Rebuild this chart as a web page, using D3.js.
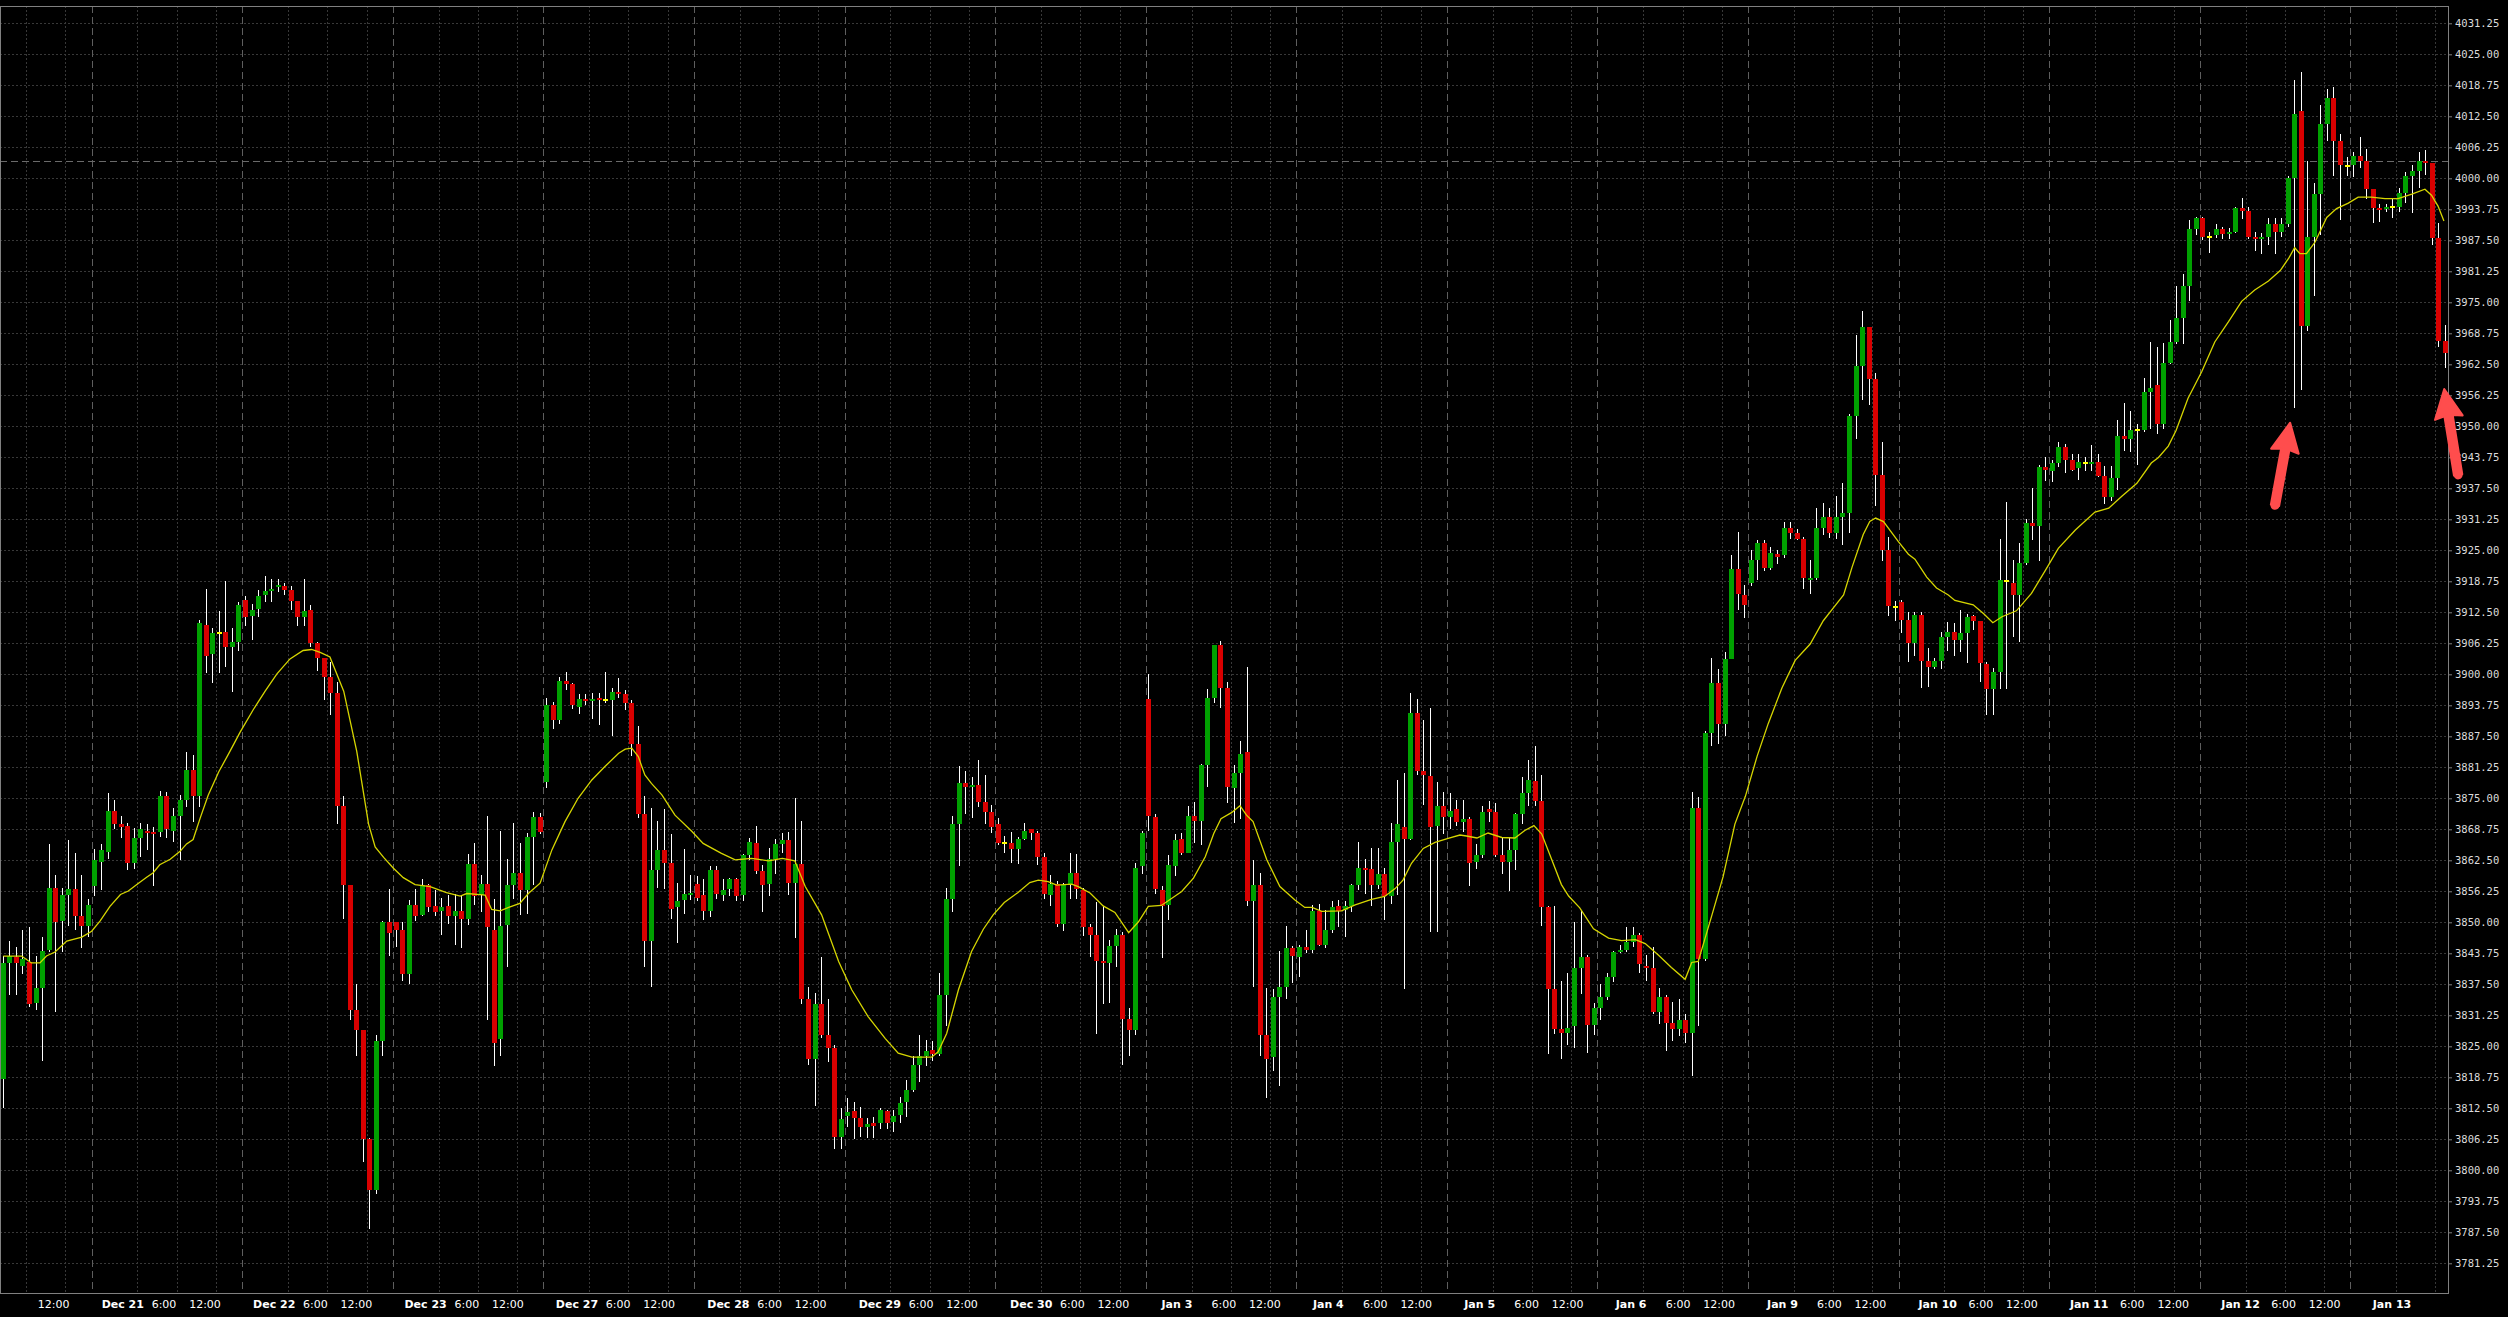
<!DOCTYPE html>
<html><head><meta charset="utf-8">
<script src="https://cdn.jsdelivr.net/npm/d3@7"></script>
<style>html,body{margin:0;padding:0;background:#000;overflow:hidden}</style>
</head><body>
<svg id="chart" width="2508" height="1317"></svg>
<script>
// ---------- DATA (hourly bars) ----------
const opens = [
3818.5,3841.75,3843,3841.25,3842,3833.75,3836.75,3844.5,3857,3850.25,
3855.5,3856.75,3851.25,3849.25,3857.25,3862.25,3864.25,3872.5,3869.75,3869.5,
3862,3867,3868.5,3868.25,3868.25,3875.5,3868.5,3871.5,3874.75,3880.75,
3875.5,3910,3904,3908.25,3908.5,3905.5,3906.5,3915,3911.75,3913.25,
3916,3916.75,3917.5,3917.75,3917,3914.75,3911.5,3913,3906.25,3903.25,
3899.5,3896.25,3873.5,3857.5,3832.25,3828.25,3806.25,3796,3826,3850,
3850,3848.5,3839.5,3853.5,3851.5,3857.5,3853.25,3852.25,3853.25,3851.25,
3852.25,3850.75,3861.75,3855.5,3857.75,3848.5,3826.5,3849.5,3857.5,3860,
3856.5,3867.25,3871.25,3878.25,3893.75,3890.75,3898.75,3898,3893.5,3895,
3894.75,3895.25,3894.75,3894.75,3896.5,3896,3894.25,3886,3871.75,3846.25,
3860.5,3864.5,3862,3853,3854.5,3855.5,3857.75,3855.5,3852.25,3860.5,
3855.5,3856.75,3858.75,3855.5,3863.5,3866,3860.25,3857.75,3862.75,3865.75,
3866.5,3858,3861.75,3834.5,3822.5,3833.5,3827.25,3824.75,3806.75,3811,
3812,3810.5,3808.75,3809.5,3809.5,3812,3809.75,3811.25,3813.75,3816.25,
3821.25,3823,3824.25,3823.5,3835.25,3854.75,3869.75,3878,3877.25,3877.75,
3874.25,3872.25,3869.75,3866,3866,3864.75,3866.75,3868.75,3868,3863.25,
3855.5,3857.75,3849.75,3857.5,3860,3856.5,3849,3847.5,3842.25,3841.75,
3845.25,3847.5,3830.5,3828.25,3861.25,3895,3871.25,3856.5,3853.5,3861.25,
3866.75,3864,3871.5,3870.5,3881.75,3895.25,3906,3897.25,3877,3880,
3884.25,3854.25,3857.5,3827.25,3822.75,3835,3837,3844.75,3843,3845,
3844.5,3852.25,3845.5,3848.5,3853.25,3852.5,3853.25,3857.5,3861,3860.75,
3857.5,3859.75,3855.25,3866.25,3869.25,3866.75,3892.25,3880.5,3879.5,3869.5,
3873.5,3871.25,3872.75,3870.25,3870.75,3862.25,3863.5,3872.75,3872.25,3863.5,
3862.25,3864.5,3871.75,3876,3878.5,3874.5,3853,3836.5,3828.5,3827.75,
3829,3840.75,3843,3829.25,3832.75,3835,3839,3844,3844.5,3846,
3847.5,3841.25,3840.75,3832,3835,3829.75,3828.5,3830.25,3827.75,3873,
3842.5,3888.25,3898.25,3890,3903,3921.25,3916,3918.5,3923,3926.5,
3921.5,3924.25,3924,3929.5,3928.5,3927.25,3919.25,3919.5,3929.5,3931.75,
3928.5,3931.75,3932.5,3952,3962.25,3970,3959.5,3940.25,3925,3913.5,
3914.5,3911,3906.25,3912,3902.75,3901.5,3902.75,3907.5,3908.5,3907,
3908.25,3911.75,3910.75,3902,3897,3900.5,3918.75,3918.5,3916,3922.5,
3930.5,3930,3941.75,3941,3942.5,3945.75,3943.25,3941.5,3942.5,3942.5,
3942.75,3940,3935.75,3939.5,3948,3947.5,3949.25,3949.25,3957,3958.25,
3950.5,3962.75,3967,3971.75,3978.25,3989.75,3992,3988.25,3988.5,3989.75,
3988.75,3989.25,3994,3993.5,3988.25,3988,3988.25,3990.75,3989.25,3990.75,
4000,4013.5,3970.25,3988.25,3996.75,4011,4016.25,4007.5,4002.5,4002.75,
4004.5,4003.5,3997.75,3994,3993.75,3994.25,3994.25,3997,4000.5,4001.5,
4003.5,4003,3988,3967.25];

const highs = [
3843.25,3846.25,3845,3848.5,3849,3843.25,3847,3865.75,3859.5,3857,
3866.5,3864,3859.5,3854.75,3864.75,3865.75,3876,3874.75,3871.5,3870,
3869,3870,3869.75,3869.25,3876.5,3876.25,3873,3875.75,3884.25,3883.75,
3911,3917.25,3909.25,3912.75,3918.75,3909.25,3914.5,3915.75,3914.25,3917,
3919.75,3919.25,3919.25,3918.5,3917.75,3914.75,3919.25,3914,3906.5,3903.25,
3902.5,3898.5,3875.5,3857.5,3837.5,3828.25,3806.5,3827.25,3850.25,3856.75,
3850,3850,3854.5,3856.75,3858.75,3857.75,3856.5,3855,3855.5,3855.75,
3855.5,3863.75,3866,3859.5,3871.5,3854.75,3868.5,3862.75,3870,3866,
3868,3872.25,3872,3895.25,3894.5,3899.5,3900.5,3898.25,3896,3896,
3896.25,3896.25,3900.5,3897.25,3899.25,3896.75,3894.75,3889.5,3875.5,3873,
3870.5,3872.75,3867.75,3858,3864.75,3859.5,3859.25,3858.75,3861.25,3861.25,
3858.75,3859,3859,3863.75,3867,3869.5,3861.5,3865,3866.75,3868,
3868.25,3875,3870.5,3837,3835.75,3843,3834.5,3825.25,3812.5,3814.5,
3813.75,3812.75,3810.5,3810.75,3812.5,3812.25,3812.25,3814.75,3818.25,3823,
3827.25,3826.25,3826,3839.75,3857,3871.5,3881.5,3880.5,3879.25,3882.75,
3879.75,3873.75,3871,3867.5,3868.25,3867.25,3870,3868.75,3868.5,3864,
3859.5,3858.25,3858,3864,3863.75,3857,3849.75,3854,3853.25,3846.5,
3848.75,3848,3832.75,3862,3868.5,3900,3871.75,3857.25,3863.5,3867.75,
3868,3873.5,3874.25,3882,3897,3906,3906.75,3898.5,3881.75,3886.5,
3901.5,3862.5,3860,3836.75,3836.5,3844.25,3849.25,3845.25,3845.5,3848.5,
3853.5,3853.75,3852.5,3854.25,3854.5,3854.25,3857.75,3866.25,3862.75,3865,
3865,3861,3870,3878.75,3880,3896.25,3895,3890.75,3893.25,3878.25,
3876.25,3876,3874.75,3874.75,3871.25,3865.75,3873.5,3874.5,3874,3867.25,
3867,3872,3879.25,3882.75,3885.5,3879.75,3853.25,3853.25,3838.25,3839.75,
3850,3852.5,3843.5,3833.75,3837.5,3839.75,3844.25,3845.5,3849,3849,
3847.75,3843.5,3845,3836.75,3835.25,3834,3834.5,3831.5,3876.25,3875.25,
3888.5,3903.25,3901,3904.5,3924,3928.75,3918,3925,3927,3927,
3925.75,3925,3930.75,3930.75,3929.25,3927.75,3923,3933.5,3934.5,3933.5,
3936,3938.5,3952.5,3968.5,3973.25,3970,3960.75,3946.75,3927.75,3914.75,
3915,3912.5,3912.5,3912.5,3905.25,3903.25,3908.5,3910.5,3910.25,3913,
3912.25,3912,3910.75,3902.5,3901.25,3927.25,3934.75,3923,3926.5,3931.25,
3937.5,3942.25,3943.75,3943.25,3946.75,3946.5,3944.5,3944.5,3943.75,3946.25,
3944.5,3942,3942,3951.25,3954.75,3953,3950.5,3959.75,3967,3966,
3966.75,3971.5,3978.25,3980.75,3991.5,3992.25,3992.25,3989.25,3990.75,3990.25,
3990,3994.25,3996,3994.25,3989.25,3989,3992,3992,3992,4000.5,
4019.75,4021.5,4003.5,3999,4014.75,4018,4018.5,4009,4004.25,4005.25,
4008.25,4006,3997.75,3994.75,3994.75,3995.75,3998,4001.25,4002.75,4005.25,
4005.75,4003,3991,3970.5];

const lows = [
3812.5,3835.25,3835.25,3839.5,3833,3832.25,3822,3844,3832,3844,
3849.25,3848.5,3844.75,3847,3855.25,3856.5,3862.75,3868.75,3867,3860.5,
3860.75,3863.25,3864.5,3857.25,3867.25,3867,3866.25,3862.5,3873.25,3870.25,
3873.25,3900.25,3898.25,3900.25,3901.5,3896.5,3904.75,3909.75,3907,3911.5,
3914.5,3914.5,3916.5,3916,3913,3909.75,3909.75,3905.5,3900.75,3894.75,
3891.75,3869.75,3850.75,3830.25,3823,3801.75,3788.25,3795.25,3823,3843.25,
3845,3838.25,3837.5,3850.25,3851.25,3852,3851.25,3847.5,3849.75,3845.5,
3844.75,3849.5,3853.5,3852,3830.25,3821,3823,3841,3854.75,3851.5,
3851.75,3857.5,3867.75,3877,3889,3890,3896.75,3893,3892,3893.75,
3891,3889.75,3894.25,3887.5,3895.25,3892.75,3883.5,3871,3841,3837,
3857,3856.75,3850.75,3845.75,3851.75,3854.5,3854.25,3850.5,3851,3854.75,
3854.25,3855.25,3854.25,3854.25,3862.5,3859.75,3852,3855.25,3859.75,3864,
3855.5,3846.75,3833.5,3821.25,3813,3826.75,3821.75,3804.25,3804.25,3808.75,
3806.25,3806.75,3806.5,3806.5,3808.25,3808.25,3807.75,3809.5,3810.75,3815.75,
3817.75,3821,3822,3823,3829,3852,3861.25,3871.75,3871,3873.25,
3869.75,3868,3865.5,3864,3862,3861.75,3866.5,3866.5,3861.5,3854.75,
3853.25,3849,3848.25,3854.75,3854.75,3847.25,3843,3827.5,3833.5,3833.75,
3841,3821.25,3823,3827.25,3859.75,3868.5,3855.75,3842.75,3850.5,3859.25,
3863.5,3864,3866,3865.5,3877.25,3894.25,3893.25,3874,3870,3870.75,
3853.25,3837,3823,3814.5,3820,3817,3834.5,3837.75,3839,3843.75,
3843.75,3845.25,3844.75,3847.75,3849,3847,3852,3856.5,3855.75,3853.25,
3856.75,3850.5,3853.75,3855.5,3836.5,3866.5,3879.75,3873.75,3848,3848,
3867.75,3868.75,3869.5,3868.25,3857.25,3860.75,3863,3870.25,3863.25,3859.75,
3856.25,3860.5,3869.75,3873.5,3873.5,3849.25,3823.5,3827.5,3822.5,3825.25,
3824.75,3835.5,3823.75,3827.25,3830.25,3834.25,3838,3843.75,3844,3845,
3839.75,3838.25,3831.5,3829.5,3824,3826,3827,3825.75,3819,3829,
3842.25,3885.5,3886,3887.5,3903,3913,3911.25,3917.75,3919,3920.75,
3921,3922.25,3923.5,3927.25,3927,3917.25,3916.25,3919,3928,3927.5,
3927.25,3926,3928.5,3947.5,3955.25,3954.25,3934,3922.75,3911.75,3910.75,
3908.25,3902.5,3903.75,3897.25,3897.5,3901,3901,3904.75,3903.75,3904.5,
3902.25,3909,3898.5,3891.75,3891.75,3897,3897,3907.5,3906.5,3922,
3927,3922.75,3939,3938.75,3941.75,3940.5,3941,3939.25,3941,3941,
3939.75,3934.25,3935,3937.25,3945,3944.75,3942.25,3948.75,3949.5,3948.5,
3949.5,3962.5,3966.5,3966.5,3975.25,3988.5,3987.5,3985,3988,3987.75,
3987.75,3989,3991.75,3987.75,3985.25,3984.75,3986.5,3984.75,3988.25,3990.25,
3953.75,3957.25,3969.25,3976.25,3988.5,4007.5,4000.5,3991.5,4000.5,4000.25,
4002,3995.75,3991,3991.25,3993.25,3992,3993.25,3995,3993,3998,
4000.75,3986.5,3966,3961.75];

const closes = [
3841.75,3843.25,3841.75,3842.5,3833.5,3836.75,3844.25,3857,3850,3855.5,
3856.75,3851.25,3849.25,3853.5,3862.5,3864.5,3872.5,3869.75,3869.25,3862,
3867,3868.75,3868,3868,3875.5,3868.75,3871.5,3874.75,3880.75,3875.5,
3910.25,3903.75,3908.25,3908.25,3905.5,3906.5,3914,3911.5,3913,3915.75,
3916.75,3917.25,3918,3917,3914.75,3911.5,3912.75,3906.25,3903.25,3899.5,
3896.25,3873.5,3857.5,3832.25,3828.25,3806.25,3796,3826,3850,3847.75,
3848.5,3839.5,3853.5,3851.25,3857.5,3853,3852,3853,3851.25,3852.25,
3850.75,3861.75,3855.25,3857.75,3849,3825.75,3849.25,3857.5,3860,3856.5,
3867.25,3871.25,3868.25,3893.75,3890.75,3898.75,3898,3893.75,3895,3894.75,
3895,3894.75,3894.75,3896.5,3896,3894.25,3886,3871.75,3846.25,3860.5,
3864.5,3862,3852.75,3854.25,3855.75,3856,3855,3852.25,3860.5,3855.75,
3856.5,3858.75,3855.25,3863.5,3866.25,3860.25,3857.5,3862.75,3865.75,3866.5,
3858,3861.75,3834.5,3822.5,3833.5,3827.25,3824.75,3806.75,3810.25,3811.75,
3810.5,3808.75,3809.25,3809,3812.25,3809.5,3811,3813.5,3816.25,3821.25,
3823,3824,3823.5,3835.25,3854.75,3869.75,3878,3877.25,3877.75,3874.25,
3872.25,3869.25,3866,3866,3864.75,3866.75,3868.5,3868,3863.25,3855.75,
3857.75,3849.75,3857.5,3860,3856.75,3849,3847.5,3842.25,3841.75,3845.25,
3847.5,3830.5,3828.25,3861,3868,3871.5,3856.75,3853.25,3861.5,3866.5,
3864,3871.5,3870.5,3881.75,3895.25,3906,3897.25,3877.25,3880,3884,
3854.25,3857.5,3827.25,3822.5,3835,3837,3844.75,3843.25,3845,3844.5,
3852.25,3845.5,3848.5,3853,3852.25,3853.25,3857.5,3861,3860.5,3857.5,
3859.75,3855.25,3866.25,3869.75,3866.75,3892.25,3880.5,3879.75,3869.25,3873.5,
3871.25,3872.5,3870.25,3870.75,3862,3863.5,3872.25,3872.25,3863.5,3862.25,
3864.5,3871.75,3876,3878.75,3874.5,3853,3836.5,3828.5,3827.75,3828.75,
3840.75,3843,3829.25,3832.75,3835,3839,3844,3844.5,3846,3847.5,
3841.5,3840.75,3832,3835,3829.75,3828.5,3830.25,3827.75,3873,3842.5,
3888.25,3898.25,3890,3903,3921.25,3916.25,3914,3923,3926.5,3921.5,
3924.5,3923.75,3929.5,3928.5,3927.25,3919.5,3919.5,3929.5,3931.75,3928.5,
3931.75,3932.5,3952,3962.25,3970,3959.5,3940.25,3925,3913.75,3913.5,
3911,3906.25,3912,3902.75,3901.5,3902.75,3907.5,3908.5,3907,3908.25,
3911.5,3910.75,3902.25,3897,3900.5,3919,3918.75,3916,3922.5,3930.5,
3930,3941.75,3941.25,3942.5,3945.75,3943.25,3941.25,3942.75,3942.5,3942.75,
3940,3935.75,3939.5,3948,3947.5,3949.25,3949.25,3957,3957.75,3950.5,
3962.75,3967,3971.75,3978.25,3989.75,3992,3988.25,3988.25,3989.75,3988.75,
3989.25,3994,3993.5,3988.25,3988,3988.25,3990.75,3989.25,3990.75,4000,
4013,3970.25,3988.25,3996.75,4011,4016.25,4007.5,4002.75,4002.5,4004.5,
4003.5,3997.75,3994,3993.75,3994.25,3994.25,3997,4000.5,4001.5,4003.5,
4003,3988,3967.25,3964.75];

// moving average line: [bar index, value]
const maLine = [
[0,3843.2],[2.8,3843.2],[4.3,3841.8],[5.6,3841.8],[6.6,3843.2],[7.9,3844],[9.7,3846.2],[12,3847],[13.5,3848.2],[14.8,3850.3],
[16.3,3853.2],[17.9,3855.6],[19.1,3856.3],[20.4,3857.6],[21.9,3859.1],[22.9,3860],[23.9,3861.6],[25.5,3862.7],[27,3864.3],[28,3865.8],
[29,3866.7],[30.1,3871.1],[31.3,3875.6],[32.9,3880.3],[34.6,3884.4],[36.2,3888.4],[38.2,3892.9],[40,3896.6],[41.8,3900.1],[43.8,3903.1],
[45.8,3904.8],[47.1,3905],[48.4,3904.4],[49.9,3903.5],[52,3896.6],[54,3884.4],[55.8,3869.8],[56.8,3865.2],[58.1,3863.1],[59.6,3860.9],
[61.1,3859],[62.9,3857.6],[65.2,3857.2],[67.7,3856],[69.8,3855.3],[70.8,3855.8],[72.8,3855.6],[73.6,3855.5],[74.6,3852.6],[75.9,3852.3],
[77.2,3853],[78.9,3853.8],[80.2,3855.8],[82,3857.9],[83.8,3864.6],[85.8,3870.3],[87.8,3875],[89.9,3878.7],[91.9,3881.4],[94,3884.1],
[95,3884.9],[96,3885.1],[97,3883.4],[98,3879.7],[99,3878],[100.6,3875.7],[102.6,3871.6],[105.2,3868.3],[106.9,3865.9],[109.7,3863.9],
[111.8,3862.6],[114.3,3862.9],[116.9,3862.4],[119,3862.9],[120.9,3862.4],[122.5,3857.2],[125,3851.5],[127.6,3842.1],[129.6,3836.4],[132.1,3831],
[134.7,3826.6],[136.7,3823.6],[138.8,3822.8],[141.8,3822.8],[142.8,3823.9],[144.1,3827.6],[145.9,3836.4],[147.9,3844.1],[149.7,3848.6],[151.2,3851.5],
[152.9,3854],[155,3856],[156.8,3858],[158.1,3858.5],[159.6,3858.2],[160.9,3857.5],[163.2,3857.7],[164.2,3857.2],[166,3855.9],[168,3853.3],
[169.8,3852],[171.9,3847.9],[173.4,3850.1],[174.9,3853.2],[176.9,3853.4],[179,3855.3],[180,3856.2],[181.8,3858.9],[183.6,3863.2],[184.9,3867.9],
[186,3870.9],[187.6,3872.1],[188.9,3873.5],[189.9,3871.6],[190.9,3870.3],[193,3862.6],[195,3857.2],[197.3,3854.5],[198.8,3853],[199.9,3853],
[201.4,3852.2],[204.4,3852.3],[206.5,3853.5],[209,3854.6],[211,3855.2],[212.6,3856.8],[213.8,3858.5],[215.1,3861.9],[216.9,3864.9],[218.7,3866.1],
[220.7,3866.9],[222.5,3867.6],[223.5,3867.4],[225.1,3867],[226.8,3868],[228.9,3867.1],[230.9,3867],[232.4,3868.5],[233.8,3869.5],[235,3867.8],
[236.5,3862.7],[238,3857.6],[239.1,3855.3],[240.8,3852.9],[242.9,3848.7],[245.2,3846.8],[247.2,3846.3],[249.3,3846.5],[250.8,3845.7],[252.8,3843.4],
[254.8,3840.9],[256.9,3838.5],[257.9,3841.9],[258.9,3842.1],[261,3851.5],[262.7,3859.2],[264.5,3869.8],[266.1,3875.4],[267.9,3883.5],[269.6,3890.1],
[271.7,3897.3],[273.7,3902.8],[276,3906.1],[278,3910.8],[279.3,3913],[281.1,3916],[282.4,3921.6],[284.1,3928.2],[285.1,3930.8],[286,3931.5],
[287.2,3930.8],[289.5,3926.7],[291,3924.2],[292,3923.2],[293.8,3919.6],[295.3,3917.4],[297.1,3916],[298.1,3914.9],[300.9,3914],[302.5,3912.2],
[303.9,3910.4],[305.3,3911.6],[307.5,3912.8],[309.8,3916.3],[311.9,3920.9],[313.9,3925.4],[316.5,3929.1],[319.5,3932.7],[321.6,3933.5],[323.6,3935.9],
[325.9,3938.5],[328.1,3942.6],[329.2,3943.7],[330.7,3946],[331.9,3949.2],[333.7,3955.6],[335.8,3961],[337.8,3967],[339.9,3971.1],[341.9,3975.2],
[343.9,3977.5],[346,3979.3],[347.8,3981.4],[349.1,3983.9],[350,3986],[350.8,3984.8],[351.8,3984.8],[353.1,3987.1],[354.9,3992.1],[356.4,3993.9],
[358.2,3995],[359.7,3996.2],[361.7,3996.2],[363.8,3995.9],[365.8,3995.9],[367.9,3996.8],[369.9,3997.8],[370.9,3996.6],[371.9,3994.4],[372.8,3991.4]];

// session days (23 hourly bars each); first day is partial
const dayLabels = ["Dec 20","Dec 21","Dec 22","Dec 23","Dec 27","Dec 28","Dec 29","Dec 30",
                   "Jan 3","Jan 4","Jan 5","Jan 6","Jan 9","Jan 10","Jan 11","Jan 12","Jan 13"];
const barsPerDay = 23;
const firstFullDayBar = 14;
const hourLabels = [{text:"6:00", bar:9}, {text:"12:00", bar:15}];
const gridBars = [7, 13, 19];
const priceTicks = d3.range(3781.25, 4031.26, 6.25);
const levelLine = 4003.5;
const arrowTargets = [{bar:350, price:3953.75}, {bar:373, price:3961.75}];

// ---------- LAYOUT ----------
const svg = d3.select("#chart");
const plotL = 0, plotR = 2448, plotT = 6, plotB = 1293;
const n = opens.length;
const x = d3.scaleLinear().domain([0, n]).range([0, 2448.5]);
const cx = i => x(i + 0.5);
const y = d3.scaleLinear().domain([3781.25, 4031.25]).range([1263.3, 23.3]);

svg.append("rect").attr("width", 2508).attr("height", 1317).attr("fill", "#000");

svg.append("defs").append("clipPath").attr("id", "plotclip")
  .append("rect").attr("x", plotL).attr("y", plotT).attr("width", plotR - plotL).attr("height", plotB - plotT);

const grid = svg.append("g").attr("clip-path", "url(#plotclip)");
// horizontal grid
grid.selectAll("line.h").data(priceTicks).join("line")
  .attr("x1", plotL).attr("x2", plotR)
  .attr("y1", d => Math.round(y(d)) + 0.5).attr("y2", d => Math.round(y(d)) + 0.5)
  .attr("stroke", "#383838").attr("stroke-width", 1).attr("stroke-dasharray", "2,2");

const dayStarts = dayLabels.map((d, k) => firstFullDayBar + (k - 1) * barsPerDay);
// vertical dotted grid
const vGrid = [];
dayStarts.forEach(ds => gridBars.forEach(b => vGrid.push(ds + b)));
grid.selectAll("line.v").data(vGrid.filter(b => b > 0 && b < n)).join("line")
  .attr("x1", d => Math.round(x(d)) + 0.5).attr("x2", d => Math.round(x(d)) + 0.5)
  .attr("y1", plotT).attr("y2", plotB)
  .attr("stroke", "#383838").attr("stroke-width", 1).attr("stroke-dasharray", "2,2");
// day separators
grid.selectAll("line.d").data(dayStarts.filter(b => b > 0 && b < n)).join("line")
  .attr("x1", d => Math.round(x(d)) + 0.5).attr("x2", d => Math.round(x(d)) + 0.5)
  .attr("y1", plotT).attr("y2", plotB)
  .attr("stroke", "#5e5e5e").attr("stroke-width", 1).attr("stroke-dasharray", "7,4");
// level line
grid.append("line").attr("x1", plotL).attr("x2", plotR)
  .attr("y1", Math.round(y(levelLine)) + 0.5).attr("y2", Math.round(y(levelLine)) + 0.5)
  .attr("stroke", "#6a6a6a").attr("stroke-width", 1).attr("stroke-dasharray", "7,4");

// ---------- CANDLES ----------
const bars = d3.range(n);
const cg = svg.append("g").attr("clip-path", "url(#plotclip)").attr("shape-rendering", "crispEdges");
const bodyLeft = i => Math.round(cx(i) - 2.5);
cg.selectAll("rect.wick").data(bars).join("rect")
  .attr("x", i => bodyLeft(i) + 2).attr("width", 1)
  .attr("y", i => Math.round(y(highs[i])))
  .attr("height", i => Math.max(1, Math.round(y(lows[i])) - Math.round(y(highs[i]))))
  .attr("fill", "#ffffff");
cg.selectAll("rect.body").data(bars).join("rect")
  .attr("x", i => bodyLeft(i)).attr("width", 5)
  .attr("y", i => {
    const t = Math.round(y(Math.max(opens[i], closes[i])));
    const b = Math.round(y(Math.min(opens[i], closes[i])));
    return (b - t < 2) ? Math.round((t + b) / 2) - 1 : t;
  })
  .attr("height", i => {
    const t = Math.round(y(Math.max(opens[i], closes[i])));
    const b = Math.round(y(Math.min(opens[i], closes[i])));
    return Math.max(2, b - t);
  })
  .attr("fill", i => closes[i] > opens[i] ? "#00a000" : (closes[i] < opens[i] ? "#d90000" : "#ffff00"));

// ---------- MOVING AVERAGE ----------
svg.append("path").datum(maLine).attr("clip-path", "url(#plotclip)")
  .attr("d", d3.line().x(d => cx(d[0])).y(d => y(d[1])))
  .attr("fill", "none").attr("stroke", "#d6d600").attr("stroke-width", 1.3);

// ---------- FRAME ----------
svg.append("rect").attr("x", plotL + 0.5).attr("y", plotT + 0.5)
  .attr("width", plotR - plotL - 0.5).attr("height", plotB - plotT)
  .attr("fill", "none").attr("stroke", "#808080").attr("stroke-width", 1).attr("shape-rendering", "crispEdges");

// ---------- PRICE AXIS ----------
const ax = svg.append("g").attr("transform", `translate(${plotR},0)`)
  .call(d3.axisRight(y).tickValues(priceTicks).tickFormat(d3.format(".2f")).tickSize(4).tickPadding(3));
ax.select(".domain").remove();
ax.selectAll(".tick line").attr("stroke", "#808080");
ax.selectAll(".tick text").attr("fill", "#dcdcdc")
  .style("font-family", "'DejaVu Sans Mono', 'Liberation Mono', monospace").style("font-size", "10.5px");

// ---------- TIME AXIS ----------
const drift = px => 0.0055 * (px - 92);
const tg = svg.append("g").style("font-size", "11px").attr("fill", "#ffffff");
dayStarts.forEach((ds, k) => {
  const dx = x(ds);
  const lx = dx + 10 + drift(dx);
  if (lx >= 5 && lx <= 2420) {
    tg.append("text").attr("x", lx).attr("y", 1308)
      .style("font-family", "'DejaVu Sans', sans-serif").style("font-weight", "bold")
      .text(dayLabels[k]);
  }
  hourLabels.forEach(h => {
    const off = h.bar === 9 ? 60 : 97.5;
    const hx = dx + off + drift(dx);
    if (hx >= 5 && hx <= 2400) {
      tg.append("text").attr("x", hx).attr("y", 1308)
        .style("font-family", "'DejaVu Sans', sans-serif").text(h.text);
    }
  });
});

// ---------- ANNOTATION ARROWS ----------
const arrowGeom = [{dx:-4.5, dy:15, ang:10.4, len:84}, {dx:-1, dy:21, ang:-9.2, len:87}];
const ag = svg.append("g");
arrowTargets.forEach((a, k) => {
  const g = arrowGeom[k];
  const tx = cx(a.bar) + g.dx, ty = y(a.price) + g.dy;
  const L = g.len;
  const p = `M0,0 L14,29 L4.2,27 L4.2,${L} L-4.2,${L} L-4.2,27 L-14,29 Z`;
  ag.append("path").attr("d", p)
    .attr("transform", `translate(${tx},${ty}) rotate(${g.ang})`)
    .attr("fill", "#ff4d4d").attr("stroke", "#ff4d4d").attr("stroke-width", 2).attr("stroke-linejoin", "round");
  ag.append("circle").attr("cx", 0).attr("cy", L).attr("r", 4.5)
    .attr("transform", `translate(${tx},${ty}) rotate(${g.ang})`).attr("fill", "#ff4d4d");
});
</script>
</body></html>
